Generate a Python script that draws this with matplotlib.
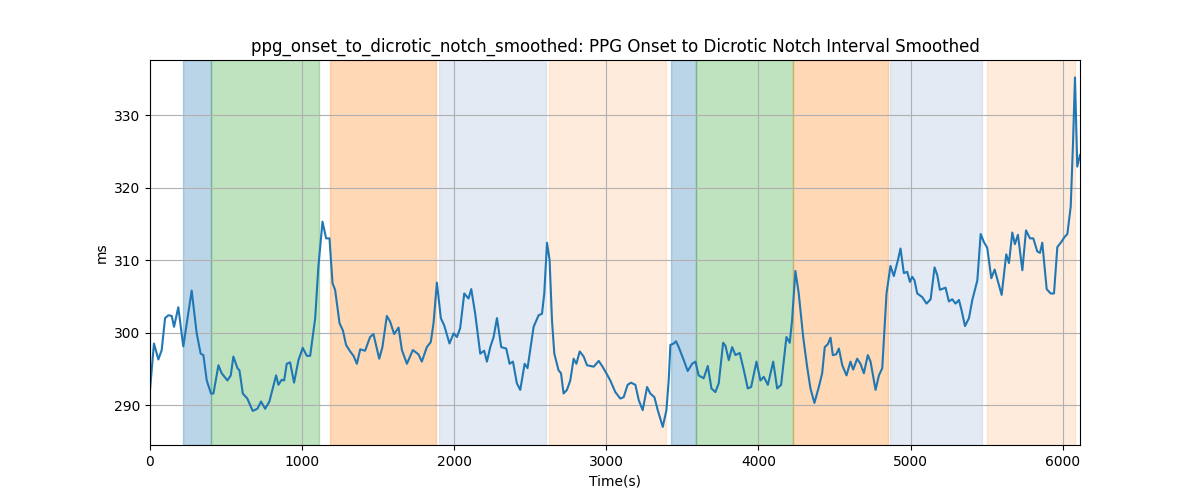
import matplotlib
matplotlib.use("Agg")
import matplotlib.pyplot as plt

time_s = [0, 26, 55, 77, 99, 121, 143, 158, 186, 219, 274, 307, 333, 351, 373, 401, 417, 450, 471, 509,
          531, 548, 575, 588, 610, 640, 675, 706, 730, 757, 785, 829, 844, 866, 882, 899, 921, 947, 976,
          1004, 1031, 1053, 1086, 1107, 1134, 1158, 1180, 1200, 1217, 1246, 1268, 1289, 1316, 1338, 1360,
          1382, 1414, 1447, 1469, 1507, 1528, 1557, 1579, 1605, 1634, 1656, 1689, 1728, 1765, 1787, 1820,
          1846, 1864, 1886, 1912, 1934, 1969, 1996, 2018, 2039, 2066, 2094, 2112, 2138, 2171, 2197, 2215,
          2237, 2259, 2281, 2309, 2342, 2364, 2386, 2412, 2434, 2463, 2482, 2522, 2555, 2577, 2592, 2610,
          2627, 2643, 2658, 2686, 2702, 2719, 2741, 2763, 2785, 2803, 2825, 2851, 2873, 2917, 2950, 2972,
          3000, 3026, 3059, 3092, 3114, 3140, 3162, 3191, 3213, 3239, 3268, 3289, 3316, 3338, 3371, 3395,
          3410, 3421, 3443, 3458, 3476, 3509, 3535, 3564, 3586, 3607, 3640, 3667, 3691, 3717, 3739, 3768,
          3783, 3805, 3827, 3849, 3877, 3904, 3930, 3952, 3987, 4013, 4035, 4062, 4097, 4123, 4149, 4184,
          4206, 4221, 4243, 4265, 4294, 4320, 4342, 4368, 4397, 4419, 4436, 4456, 4474, 4489, 4511, 4529,
          4551, 4579, 4605, 4623, 4649, 4671, 4693, 4719, 4737, 4770, 4792, 4814, 4842, 4868, 4890, 4917,
          4934, 4956, 4978, 4996, 5011, 5026, 5044, 5077, 5105, 5132, 5158, 5176, 5193, 5230, 5252, 5274,
          5296, 5318, 5333, 5358, 5384, 5406, 5439, 5461, 5482, 5504, 5531, 5553, 5581, 5599, 5629, 5647,
          5669, 5686, 5706, 5735, 5759, 5785, 5807, 5833, 5851, 5866, 5895, 5921, 5943, 5965, 5991, 6013,
          6031, 6053, 6068, 6081, 6096, 6114]
interval_ms = [292.1, 298.5, 296.3, 297.6, 302.0, 302.4, 302.3, 300.8, 303.5, 298.1, 305.8, 299.9, 297.1,
               296.9, 293.4, 291.6, 291.6, 295.5, 294.4, 293.4, 294.1, 296.7, 295.1, 294.8, 291.6, 290.9,
               289.2, 289.5, 290.5, 289.5, 290.5, 294.1, 292.8, 293.5, 293.4, 295.7, 295.9, 293.1, 296.2,
               297.9, 296.8, 296.8, 302.0, 309.1, 315.3, 313.0, 313.0, 306.8, 305.9, 301.3, 300.3, 298.3,
               297.4, 296.8, 295.7, 297.7, 297.5, 299.4, 299.8, 296.4, 298.0, 302.3, 301.5, 299.8, 300.7,
               297.6, 295.7, 297.6, 297.0, 296.0, 298.0, 298.7, 301.3, 306.9, 302.0, 301.0, 298.5, 299.9,
               299.4, 300.6, 305.4, 304.7, 306.0, 302.6, 297.1, 297.5, 296.0, 298.0, 299.4, 302.0, 298.0,
               297.8, 295.7, 296.0, 293.0, 292.1, 295.7, 295.1, 300.8, 302.4, 302.6, 305.4, 312.4, 310.0,
               301.6, 297.1, 294.8, 294.4, 291.6, 292.1, 293.4, 296.4, 295.7, 297.4, 296.7, 295.5, 295.3,
               296.1, 295.4, 294.4, 293.4, 291.8, 290.9, 291.1, 292.8, 293.1, 292.8, 290.7, 289.3, 292.5,
               291.6, 291.1, 289.3, 287.0, 289.3, 293.4, 298.3, 298.5, 298.8, 298.0, 296.2, 294.7, 295.7,
               296.0, 294.1, 293.7, 295.4, 292.3, 291.8, 293.0, 298.6, 298.2, 296.2, 298.0, 296.9, 297.2,
               294.8, 292.3, 292.5, 296.0, 293.4, 293.9, 292.8, 296.0, 292.3, 292.8, 299.4, 298.6, 301.7,
               308.5, 305.4, 299.4, 295.3, 292.3, 290.3, 292.5, 294.4, 298.0, 298.4, 299.3, 296.9, 297.0,
               297.8, 295.5, 294.1, 296.0, 294.9, 296.4, 295.7, 294.4, 296.9, 296.0, 292.1, 294.1, 295.1,
               305.4, 309.2, 307.8, 310.0, 311.6, 308.2, 308.4, 307.0, 307.7, 307.2, 305.4, 304.9, 304.0,
               304.6, 309.0, 307.9, 305.9, 306.2, 304.3, 304.6, 304.0, 304.5, 303.3, 300.9, 302.0, 304.5,
               307.2, 313.6, 312.5, 311.7, 307.5, 308.7, 306.6, 305.2, 310.8, 309.6, 313.8, 312.2, 313.5,
               308.6, 314.1, 313.0, 313.0, 311.2, 311.0, 312.4, 306.0, 305.4, 305.4, 311.8, 312.5, 313.2,
               313.6, 317.4, 326.1, 335.2, 322.9, 324.5]

span_starts = [220, 400, 1185, 1900, 2625, 3428, 3587, 4230, 4868, 5500]
span_ends = [400, 1112, 1882, 2605, 3395, 3587, 4230, 4849, 5467, 6079]
span_colors = ["C0", "C2", "C1", "lightsteelblue", "C1", "C0", "C2", "C1", "lightsteelblue", "C1"]
span_alphas = [0.3, 0.3, 0.3, 0.35, 0.15, 0.3, 0.3, 0.3, 0.35, 0.15]

fig, ax = plt.subplots(figsize=(12, 5), dpi=100)
for s, e, c, a in zip(span_starts, span_ends, span_colors, span_alphas):
    ax.axvspan(s, e, color=c, alpha=a)
ax.plot(time_s, interval_ms, color="C0", linewidth=1.5)
ax.set_xlim(0, 6114)
ax.set_ylim(284.5, 337.6)
ax.grid(True, color="#b0b0b0")
ax.set_xlabel("Time(s)")
ax.set_ylabel("ms")
ax.set_title("ppg_onset_to_dicrotic_notch_smoothed: PPG Onset to Dicrotic Notch Interval Smoothed")
fig.savefig("out.png", dpi=100)
